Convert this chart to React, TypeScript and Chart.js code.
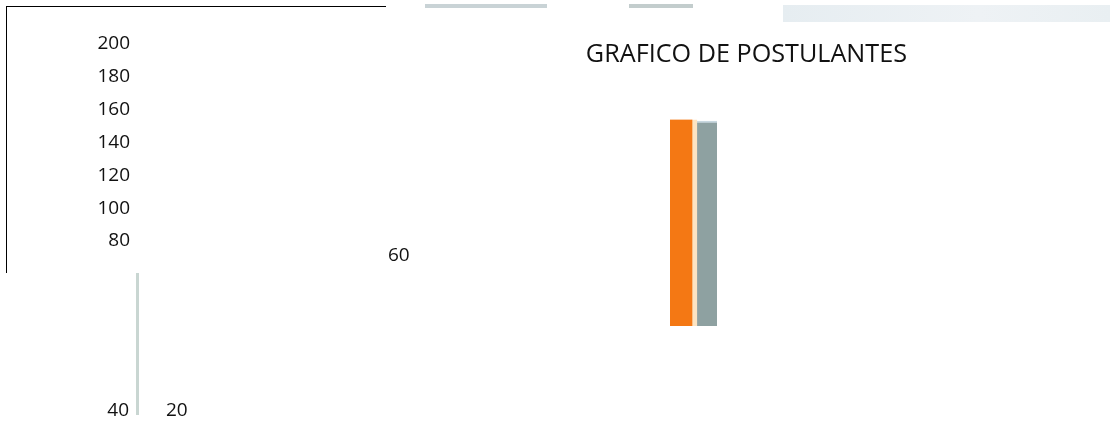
import React, { useEffect, useRef } from "react";
import { Chart, registerables } from "chart.js";

Chart.register(...registerables);

// ---- data ----
const TITLE = "GRAFICO DE POSTULANTES";
const CATEGORIES = ["Postulantes"];
const SERIES_NAMES = ["Serie 1", "Serie 2"];
const ORANGE_VALUES = [154];
const GREY_VALUES = [153];
const Y_TICKS = [80, 100, 120, 140, 160, 180, 200];
const STRAY_TICKS = ["60", "40", "20"];

const FONT = "'Open Sans', 'DejaVu Sans', sans-serif";

export default function App() {
  const ref = useRef<HTMLCanvasElement | null>(null);

  useEffect(() => {
    if (!ref.current) return;
    const chart = new Chart(ref.current, {
      type: "bar",
      data: {
        labels: CATEGORIES,
        datasets: [
          {
            label: SERIES_NAMES[0],
            data: ORANGE_VALUES,
            backgroundColor: "#f47814",
            borderColor: "#fde4c2",
            borderWidth: { top: 0, right: 5, bottom: 0, left: 0 },
            borderSkipped: false,
            barThickness: 27,
          },
          {
            label: SERIES_NAMES[1],
            data: GREY_VALUES,
            backgroundColor: "#8ea1a1",
            borderColor: "#c8d8e0",
            borderWidth: { top: 2, right: 0, bottom: 0, left: 0 },
            borderSkipped: false,
            barThickness: 20,
          },
        ],
      },
      options: {
        animation: false,
        responsive: false,
        layout: { padding: { left: 0, right: 203, top: 0, bottom: 95 } },
        plugins: {
          legend: { display: false },
          tooltip: { enabled: false },
          title: {
            display: true,
            text: TITLE,
            align: "end",
            color: "#111",
            font: { family: FONT, size: 25.2, weight: "normal", lineHeight: 1.2 },
            padding: { top: 39.9, bottom: -26.14 },
          },
        },
        scales: {
          x: { display: false },
          y: {
            min: 28.22,
            max: 200,
            afterBuildTicks: (axis: any) => {
              axis.ticks = Y_TICKS.map((v) => ({ value: v }));
            },
            afterFit: (axis: any) => {
              axis.width = 487;
            },
            grid: {
              display: true,
              drawOnChartArea: false,
              drawTicks: true,
              tickLength: 357,
              color: "rgba(0,0,0,0)",
            },
            border: { display: false },
            ticks: {
              autoSkip: false,
              padding: 0,
              color: "#111",
              font: { family: FONT, size: 19 },
              callback: (v: any) => String(v),
            },
          },
        },
      },
    });
    return () => chart.destroy();
  }, []);

  const label = (text: string, style: React.CSSProperties) => (
    <span
      style={{
        position: "absolute",
        fontFamily: FONT,
        fontSize: 19,
        lineHeight: "19px",
        color: "#111",
        whiteSpace: "nowrap",
        ...style,
      }}
    >
      {text}
    </span>
  );

  return (
    <div
      style={{
        position: "fixed",
        left: 0,
        top: 0,
        width: 1110,
        height: 421,
        background: "#fff",
        overflow: "hidden",
      }}
    >
      {/* scanned-page frame and strips */}
      <div style={{ position: "absolute", left: 6, top: 6, width: 379, height: 266, borderLeft: "1px solid #000", borderTop: "1px solid #000" }} />
      <div style={{ position: "absolute", left: 425, top: 4, width: 122, height: 4, background: "#c9d3d6" }} />
      <div style={{ position: "absolute", left: 629, top: 4, width: 64, height: 4, background: "#c3cdcd" }} />
      <div style={{ position: "absolute", left: 783, top: 5, width: 327, height: 17, background: "linear-gradient(90deg, #e6edf1, #eef2f5 60%, #e9eff2)" }} />
      <div style={{ position: "absolute", left: 136, top: 273, width: 3, height: 142, background: "#c9d6d2" }} />
      <canvas ref={ref} width={1110} height={421} style={{ position: "absolute", left: 0, top: 0 }} />
      {label(STRAY_TICKS[0], { left: 388, top: 245 })}
      {label(STRAY_TICKS[1], { right: 1110 - 129, top: 400 })}
      {label(STRAY_TICKS[2], { left: 166, top: 400 })}
    </div>
  );
}
